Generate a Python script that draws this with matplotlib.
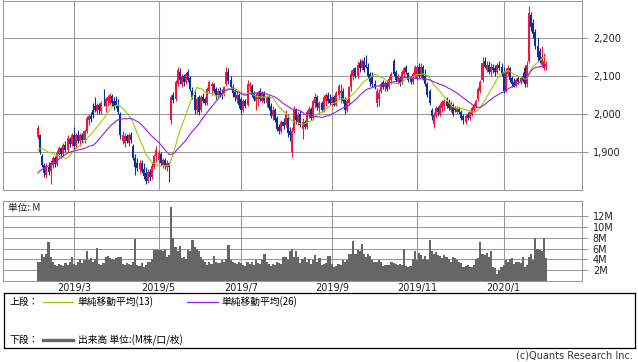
import numpy as np
import pandas as pd
import matplotlib
matplotlib.use('Agg')
import matplotlib.pyplot as plt

plt.rcParams['font.family'] = ['DejaVu Sans', 'Noto Sans CJK JP']
JP = ['Noto Sans CJK JP', 'DejaVu Sans']

# trading days (TSE holidays removed)
holidays = ['2019-02-11', '2019-03-21', '2019-04-29', '2019-04-30', '2019-05-01',
            '2019-05-02', '2019-05-03', '2019-05-06', '2019-07-15', '2019-08-12',
            '2019-09-16', '2019-09-23', '2019-10-14', '2019-10-22', '2019-11-04',
            '2019-12-31', '2020-01-01', '2020-01-02', '2020-01-03', '2020-01-13']

# closes before the visible window (only used for the moving averages)
pre_closes = [1760, 1750, 1770, 1775, 1790, 1780, 1795, 1800, 1790, 1785, 1800, 1810, 1800,
              1850, 1870, 1880, 1895, 1900, 1890, 1910, 1905, 1920, 1915, 1925, 1943]

opens = [
    1940, 1945, 1890, 1865, 1840, 1860, 1850, 1865, 1885, 1868,
    1895, 1910, 1895, 1918, 1905, 1935, 1920, 1945, 1915, 1945,
    1930, 1945, 1932, 1955, 1985, 1995, 2010, 2020, 2008, 2025,
    2008, 2030, 2020, 2035, 2030, 2048, 2035, 2035, 2020, 2000,
    1930, 1925, 1942, 1925, 1945, 1915, 1885, 1870, 1855, 1872,
    1855, 1845, 1825, 1848, 1835, 1860, 1890, 1880, 1895, 1865,
    1878, 1860, 1870, 1985, 2050, 2040, 2080, 2110, 2080, 2100,
    2085, 2110, 2095, 2060, 2050, 2010, 2045, 2010, 2045, 2040,
    2030, 2060, 2075, 2078, 2065, 2050, 2062, 2055, 2050, 2080,
    2110, 2090, 2070, 2058, 2040, 2050, 2040, 2010, 2035, 2025,
    2075, 2075, 2055, 2035, 2040, 2060, 2035, 2055, 2030, 2045,
    2020, 1995, 2010, 1990, 1965, 1955, 1980, 1970, 1990, 1955,
    1900, 1955, 2010, 1980, 2000, 1960, 1980, 1965, 2000, 2012,
    1990, 2030, 2045, 2015, 2030, 2010, 2035, 2050, 2040, 2030,
    2045, 2025, 2050, 2055, 2062, 2040, 2010, 2030, 2070, 2100,
    2120, 2100, 2135, 2120, 2140, 2130, 2125, 2105, 2100, 2080,
    2030, 2040, 2060, 2085, 2070, 2082, 2070, 2090, 2140, 2110,
    2085, 2095, 2085, 2105, 2125, 2108, 2095, 2085, 2100, 2095,
    2125, 2100, 2125, 2100, 2080, 2060, 2010, 1975, 1995, 2015,
    2000, 2015, 2020, 2035, 2030, 2010, 2025, 2015, 2005, 2012,
    2005, 1995, 1980, 1998, 1990, 1998, 2010, 2020, 2040, 2060,
    2090, 2140, 2115, 2130, 2110, 2125, 2120, 2110, 2130, 2125,
    2110, 2060, 2105, 2120, 2095, 2085, 2075, 2095, 2085, 2100,
    2120, 2080, 2140, 2260, 2240, 2215, 2180, 2165, 2130, 2120, 2125]

highs = [
    1970, 1948, 1895, 1872, 1870, 1875, 1880, 1890, 1890, 1905,
    1915, 1912, 1925, 1930, 1945, 1940, 1950, 1965, 1950, 1958,
    1950, 1950, 1960, 1995, 2000, 2005, 2030, 2045, 2030, 2030,
    2035, 2065, 2045, 2050, 2055, 2052, 2045, 2048, 2040, 2005,
    1955, 1950, 1948, 1950, 1952, 1920, 1895, 1885, 1880, 1880,
    1870, 1860, 1855, 1855, 1870, 1895, 1915, 1905, 1900, 1885,
    1885, 1880, 1875, 2050, 2058, 2090, 2125, 2120, 2105, 2105,
    2110, 2118, 2100, 2070, 2065, 2045, 2050, 2050, 2055, 2045,
    2070, 2090, 2085, 2082, 2070, 2068, 2070, 2065, 2075, 2125,
    2120, 2100, 2080, 2065, 2060, 2055, 2045, 2040, 2040, 2090,
    2085, 2080, 2062, 2055, 2060, 2068, 2060, 2060, 2050, 2050,
    2030, 2020, 2015, 1995, 1975, 1985, 1990, 2010, 2000, 1965,
    1965, 2020, 2015, 2005, 2010, 1990, 1985, 2010, 2020, 2018,
    2040, 2055, 2050, 2035, 2035, 2050, 2055, 2058, 2052, 2048,
    2050, 2060, 2080, 2078, 2068, 2045, 2040, 2075, 2115, 2120,
    2125, 2140, 2145, 2145, 2150, 2155, 2135, 2112, 2110, 2090,
    2068, 2065, 2085, 2090, 2088, 2090, 2100, 2110, 2145, 2115,
    2105, 2100, 2115, 2125, 2130, 2112, 2100, 2110, 2130, 2130,
    2135, 2135, 2130, 2118, 2085, 2065, 2015, 2005, 2020, 2020,
    2030, 2038, 2040, 2045, 2040, 2035, 2030, 2020, 2020, 2018,
    2010, 2000, 2000, 2005, 2010, 2020, 2030, 2040, 2070, 2090,
    2150, 2150, 2140, 2140, 2135, 2132, 2130, 2135, 2140, 2135,
    2125, 2120, 2128, 2125, 2100, 2095, 2095, 2100, 2100, 2110,
    2130, 2140, 2285, 2270, 2250, 2225, 2200, 2175, 2180, 2160, 2140]

lows = [
    1935, 1895, 1860, 1835, 1832, 1840, 1815, 1858, 1860, 1862,
    1888, 1885, 1890, 1900, 1900, 1912, 1915, 1905, 1910, 1925,
    1915, 1925, 1925, 1950, 1970, 1980, 1990, 2005, 2000, 2000,
    2000, 2020, 2005, 2020, 2025, 2020, 2010, 2015, 2000, 1935,
    1920, 1912, 1925, 1915, 1925, 1880, 1840, 1850, 1845, 1845,
    1830, 1815, 1818, 1825, 1830, 1855, 1875, 1870, 1865, 1858,
    1855, 1850, 1822, 1975, 2030, 2035, 2075, 2080, 2070, 2075,
    2080, 2085, 2060, 2040, 2000, 2000, 1998, 2005, 2030, 2025,
    2025, 2055, 2050, 2055, 2040, 2045, 2045, 2040, 2048, 2075,
    2080, 2065, 2045, 2035, 2030, 2015, 2000, 2005, 2015, 2020,
    2060, 2045, 2035, 2010, 2020, 2035, 2030, 2030, 2018, 2010,
    1990, 1985, 1980, 1955, 1948, 1950, 1960, 1965, 1940, 1930,
    1887, 1950, 1975, 1970, 1965, 1935, 1960, 1960, 1990, 1985,
    1985, 2015, 2010, 2000, 2005, 2005, 2020, 2030, 2025, 2020,
    2020, 2020, 2040, 2030, 2030, 2000, 2005, 2025, 2060, 2090,
    2095, 2095, 2110, 2115, 2110, 2120, 2095, 2075, 2070, 2065,
    2018, 2020, 2055, 2065, 2062, 2060, 2065, 2080, 2100, 2085,
    2080, 2075, 2080, 2098, 2105, 2085, 2080, 2080, 2095, 2090,
    2095, 2095, 2090, 2075, 2045, 2025, 1985, 1963, 1990, 1995,
    1995, 2005, 2010, 2015, 2010, 2005, 1995, 2005, 2000, 2000,
    1985, 1975, 1975, 1985, 1985, 1995, 2005, 2015, 2035, 2055,
    2085, 2120, 2110, 2105, 2100, 2108, 2100, 2105, 2115, 2100,
    2055, 2058, 2100, 2085, 2070, 2070, 2070, 2078, 2080, 2085,
    2070, 2072, 2135, 2220, 2200, 2170, 2140, 2135, 2125, 2115, 2115]

closes = [
    1962, 1900, 1865, 1845, 1862, 1848, 1872, 1885, 1868, 1898,
    1910, 1895, 1918, 1905, 1938, 1920, 1945, 1915, 1945, 1930,
    1945, 1932, 1955, 1990, 1995, 1988, 1998, 2010, 2025, 2010,
    2030, 2028, 2040, 2045, 2050, 2030, 2020, 2022, 2005, 1945,
    1945, 1942, 1930, 1945, 1932, 1885, 1860, 1858, 1872, 1850,
    1838, 1825, 1848, 1835, 1862, 1890, 1905, 1898, 1872, 1878,
    1862, 1870, 1860, 2045, 2038, 2085, 2115, 2090, 2100, 2085,
    2105, 2090, 2065, 2045, 2010, 2040, 2005, 2045, 2035, 2030,
    2065, 2085, 2080, 2060, 2050, 2062, 2050, 2048, 2070, 2110,
    2088, 2070, 2055, 2045, 2050, 2025, 2010, 2035, 2020, 2080,
    2078, 2050, 2040, 2050, 2055, 2040, 2055, 2035, 2045, 2015,
    1995, 2010, 1985, 1960, 1955, 1980, 1968, 2000, 1950, 1945,
    1955, 2010, 1985, 1998, 1970, 1980, 1965, 2005, 2012, 1990,
    2035, 2045, 2018, 2030, 2010, 2045, 2050, 2035, 2030, 2045,
    2025, 2055, 2075, 2060, 2035, 2010, 2035, 2070, 2105, 2115,
    2100, 2130, 2120, 2140, 2115, 2125, 2100, 2085, 2078, 2070,
    2062, 2055, 2080, 2070, 2082, 2065, 2092, 2105, 2105, 2090,
    2100, 2080, 2110, 2120, 2110, 2090, 2085, 2105, 2125, 2125,
    2100, 2125, 2095, 2080, 2050, 2030, 1995, 1998, 2015, 2005,
    2025, 2032, 2035, 2020, 2015, 2028, 2000, 2010, 2015, 2005,
    1990, 1985, 1995, 1990, 2005, 2015, 2025, 2035, 2065, 2085,
    2135, 2125, 2130, 2110, 2125, 2115, 2110, 2130, 2120, 2105,
    2060, 2110, 2120, 2090, 2080, 2075, 2090, 2085, 2095, 2090,
    2080, 2130, 2265, 2230, 2210, 2180, 2150, 2140, 2150, 2140, 2132]

# volume, millions
volumes = [
    3.5, 3.5, 5.0, 4.5, 5.0, 7.2, 4.5, 3.5, 3.0, 2.8,
    3.2, 3.0, 2.8, 3.3, 3.0, 3.6, 4.4, 3.2, 3.0, 3.6,
    4.0, 3.4, 3.8, 5.6, 3.8, 4.3, 3.6, 4.0, 6.1, 3.2,
    3.0, 3.3, 4.5, 4.6, 4.3, 4.0, 3.8, 4.2, 4.5, 4.4,
    3.2, 3.0, 3.4, 3.2, 3.0, 3.5, 7.8, 3.0, 2.8, 3.4,
    2.6, 3.0, 3.6, 3.5, 4.0, 5.7, 5.8, 5.7, 5.8, 5.6,
    5.9, 4.5, 4.8, 13.6, 7.9, 6.2, 5.6, 6.5, 4.2, 4.5,
    4.0, 5.7, 5.5, 7.6, 6.3, 6.0, 5.5, 4.5, 3.8, 3.5,
    3.0, 3.6, 3.2, 4.7, 3.6, 3.4, 3.3, 3.8, 3.5, 4.0,
    6.6, 3.8, 3.5, 3.3, 3.2, 3.6, 3.4, 3.0, 2.8, 3.5,
    3.2, 3.6, 3.0, 3.8, 3.4, 3.2, 3.8, 5.0, 3.5, 3.2,
    2.8, 3.2, 3.0, 3.6, 3.3, 3.2, 4.4, 4.5, 3.8, 5.6,
    6.0, 4.5, 5.6, 4.5, 3.4, 4.0, 4.5, 3.6, 4.0, 3.2,
    3.8, 4.8, 3.6, 4.2, 3.0, 3.2, 3.4, 4.6, 4.6, 3.2,
    2.6, 2.8, 3.2, 2.9, 3.8, 3.6, 3.8, 5.0, 5.0, 7.4,
    5.0, 5.8, 5.5, 6.8, 5.0, 4.5, 5.0, 4.6, 3.8, 3.6,
    3.5, 3.8, 3.6, 2.8, 3.0, 2.9, 3.0, 3.6, 3.4, 3.2,
    3.0, 3.2, 3.0, 5.9, 2.8, 2.6, 2.8, 4.0, 5.5, 3.8,
    5.2, 4.8, 4.0, 4.6, 3.8, 7.6, 5.5, 5.0, 5.4, 4.8,
    4.6, 4.2, 4.8, 4.4, 4.0, 3.6, 4.5, 4.2, 3.8, 3.5,
    3.4, 2.6, 2.8, 3.0, 2.6, 2.5, 3.0, 4.0, 4.2, 7.2,
    5.0, 4.8, 5.2, 4.5, 5.6, 2.5, 2.4, 1.3, 2.0, 2.6,
    3.0, 3.8, 3.5, 4.0, 4.3, 3.2, 3.6, 3.5, 3.4, 4.5,
    2.6, 3.0, 4.5, 5.0, 3.8, 8.0, 6.0, 5.8, 5.5, 8.0, 4.2]

price_ticks = [1900, 2000, 2100, 2200]
vol_ticks = [2, 4, 6, 8, 10, 12]
label_months = [3, 5, 7, 9, 11, 1]

UP = '#f5143c'
DOWN = '#0a3296'
GRID = '#999999'

n = len(closes)
dates = pd.bdate_range('2019-02-05', '2020-02-04', freq='C', holidays=holidays)[:n]
x = np.arange(n)

# first trading day of the labelled months
tick_pos, tick_lab = [], []
for i in range(1, n):
    if dates[i].month != dates[i - 1].month and dates[i].month in label_months:
        tick_pos.append(i)
        tick_lab.append('%d/%d' % (dates[i].year, dates[i].month))

full = pd.Series(pre_closes + closes, dtype=float)
ma13 = full.rolling(13).mean().values[len(pre_closes):]
ma26 = full.rolling(26).mean().values[len(pre_closes):]

o = np.array(opens, float)
c = np.array(closes, float)
h = np.array(highs, float)
l = np.array(lows, float)
cols = [UP if cc >= oo else DOWN for oo, cc in zip(o, c)]

W, H = 638, 362
fig = plt.figure(figsize=(W / 100, H / 100), dpi=100)
ax1 = fig.add_axes([3 / W, 1 - 190 / H, 579 / W, 189.5 / H])
ax2 = fig.add_axes([3 / W, 1 - 281 / H, 579 / W, 80 / H])
ax3 = fig.add_axes([4 / W, 1 - 348 / H, 631 / W, 55 / H])

xlim = (-16.5, 257)

# ---- price panel
ax1.vlines(x, l, h, colors=cols, lw=0.8, zorder=2)
ax1.bar(x, np.maximum(np.abs(c - o), 1.5), bottom=np.minimum(o, c), width=0.95,
        color=cols, lw=0, zorder=3)
ax1.plot(x, ma13, color='#99cc00', lw=0.8, zorder=4)
ax1.plot(x, ma26, color='#9a1cf0', lw=0.8, zorder=4)
ax1.set_xlim(*xlim)
ax1.set_ylim(1800, 2299)
ax1.set_xticks(tick_pos)
ax1.set_yticks(price_ticks)
ax1.set_yticklabels(['{:,}'.format(v) for v in price_ticks])
ax1.yaxis.tick_right()
ax1.tick_params(axis='x', length=0, labelbottom=False)
ax1.tick_params(axis='y', length=4.3, width=0.75, color=GRID, pad=3.5,
                labelsize=7, labelcolor='#222222')
ax1.grid(True, color=GRID, lw=0.75)
ax1.set_axisbelow(True)

# ---- volume panel
ax2.bar(x, volumes, width=1.0, color='#666666', lw=0, zorder=3)
ax2.set_xlim(*xlim)
ax2.set_ylim(0, 14.77)
ax2.set_xticks(tick_pos)
ax2.set_xticklabels(tick_lab)
ax2.set_yticks(vol_ticks)
ax2.set_yticklabels(['%dM' % v for v in vol_ticks])
ax2.yaxis.tick_right()
ax2.tick_params(axis='x', length=0, pad=1.5, labelsize=7, labelcolor='#222222')
ax2.tick_params(axis='y', length=4.3, width=0.75, color=GRID, pad=3.5,
                labelsize=7, labelcolor='#222222')
ax2.grid(True, color=GRID, lw=0.75)
ax2.set_axisbelow(True)
ax2.text(0.009, 0.97, '単位: M', transform=ax2.transAxes, ha='left', va='top',
         fontsize=7, family=JP, color='#222222')

for ax in (ax1, ax2):
    for s in ax.spines.values():
        s.set_color(GRID)
        s.set_linewidth(0.75)

# ---- legend box
ax3.set_xlim(0, 1)
ax3.set_ylim(0, 1)
ax3.set_xticks([])
ax3.set_yticks([])
for s in ax3.spines.values():
    s.set_color('black')
    s.set_linewidth(0.9)
y1, y2 = 0.836, 0.145
ax3.text(0.0095, y1, '上段：', fontsize=7, family=JP, va='center')
ax3.plot([0.062, 0.109], [y1, y1], color='#99cc00', lw=0.9)
ax3.text(0.117, y1, '単純移動平均(13)', fontsize=7, family=JP, va='center')
ax3.plot([0.29, 0.339], [y1, y1], color='#9a1cf0', lw=0.9)
ax3.text(0.345, y1, '単純移動平均(26)', fontsize=7, family=JP, va='center')
ax3.text(0.0095, y2, '下段：', fontsize=7, family=JP, va='center')
ax3.plot([0.062, 0.109], [y2, y2], color='#666666', lw=2.4)
ax3.text(0.117, y2, '出来高 単位:(M株/口/枚)', fontsize=7, family=JP, va='center')

fig.text(633 / W, 1 - 355 / H, '(c)Quants Research Inc.', ha='right', va='center',
         fontsize=7, color='#333333')

fig.savefig('out.png', dpi=100)
